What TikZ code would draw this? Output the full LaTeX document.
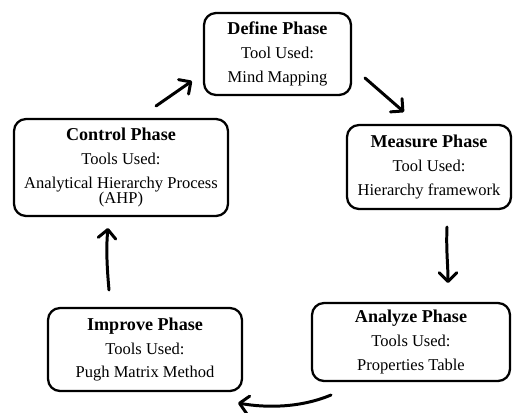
\documentclass[tikz,border=0pt]{standalone}
\usepackage{fontspec}
\setmainfont{Liberation Serif}
\usetikzlibrary{arrows.meta}
\newcommand\phtitle[1]{{\fontsize{10.3}{12}\selectfont\bfseries #1}}
\begin{document}
\begin{tikzpicture}[x=0.02cm,y=-0.02cm,
  phasebox/.style={draw, line width=1.3pt, rounded corners=0.24cm, align=center,
    inner sep=0pt, font=\fontsize{9.4}{12}\selectfont},
  flow/.style={line width=1.7pt, line cap=round, line join=round,
    -{Straight Barb[length=5pt,width=10pt,line cap=round,line join=round]}}]
  \useasboundingbox (0,0) rectangle (513,412);

  % the five phases
  \node[phasebox, minimum width=2.94cm, minimum height=1.64cm] (define) at (277.5,54)
    {\phtitle{Define Phase}\\[1.6pt] Tool Used:\\[1.6pt] Mind Mapping};
  \node[phasebox, minimum width=3.28cm, minimum height=1.68cm] (measure) at (429,167)
    {\phtitle{Measure Phase}\\[1.6pt] Tool Used:\\[1.6pt] Hierarchy framework};
  \node[phasebox, minimum width=3.96cm, minimum height=1.56cm] (analyze) at (411,342)
    {\phtitle{Analyze Phase}\\[1.6pt] Tools Used:\\[1.6pt] Properties Table};
  \node[phasebox, minimum width=3.88cm, minimum height=1.66cm] (improve) at (145,349.5)
    {\phtitle{Improve Phase}\\[1.6pt] Tools Used:\\[1.6pt] Pugh Matrix Method};
  \node[phasebox, minimum width=4.28cm, minimum height=1.94cm] (control) at (121,167.5)
    {\phtitle{Control Phase}\\[1.6pt] Tools Used:\\[1.6pt] Analytical Hierarchy Process\\[-3pt] (AHP)};

  % arrow ends between the boxes
  \coordinate (c2dA) at (156,106);
  \coordinate (c2dB) at (192,81);
  \coordinate (d2mA) at (365,78);
  \coordinate (d2mB) at (404,112);
  \coordinate (m2aA) at (447,227);
  \coordinate (m2aB) at (448,283);
  \coordinate (a2iA) at (331,395);
  \coordinate (a2iB) at (238,403);
  \coordinate (i2cA) at (109,290);
  \coordinate (i2cB) at (108,228);

  % the cycle
  \draw[flow] (c2dA) -- (c2dB);
  \draw[flow] (d2mA) -- (d2mB);
  \draw[flow] (m2aA) .. controls (446,250) and (448,265) .. (m2aB);
  \draw[flow] (a2iA) .. controls (300,408) and (266,408) .. (a2iB);
  \draw[flow] (i2cA) .. controls (107,268) and (106,248) .. (i2cB);
\end{tikzpicture}
\end{document}
